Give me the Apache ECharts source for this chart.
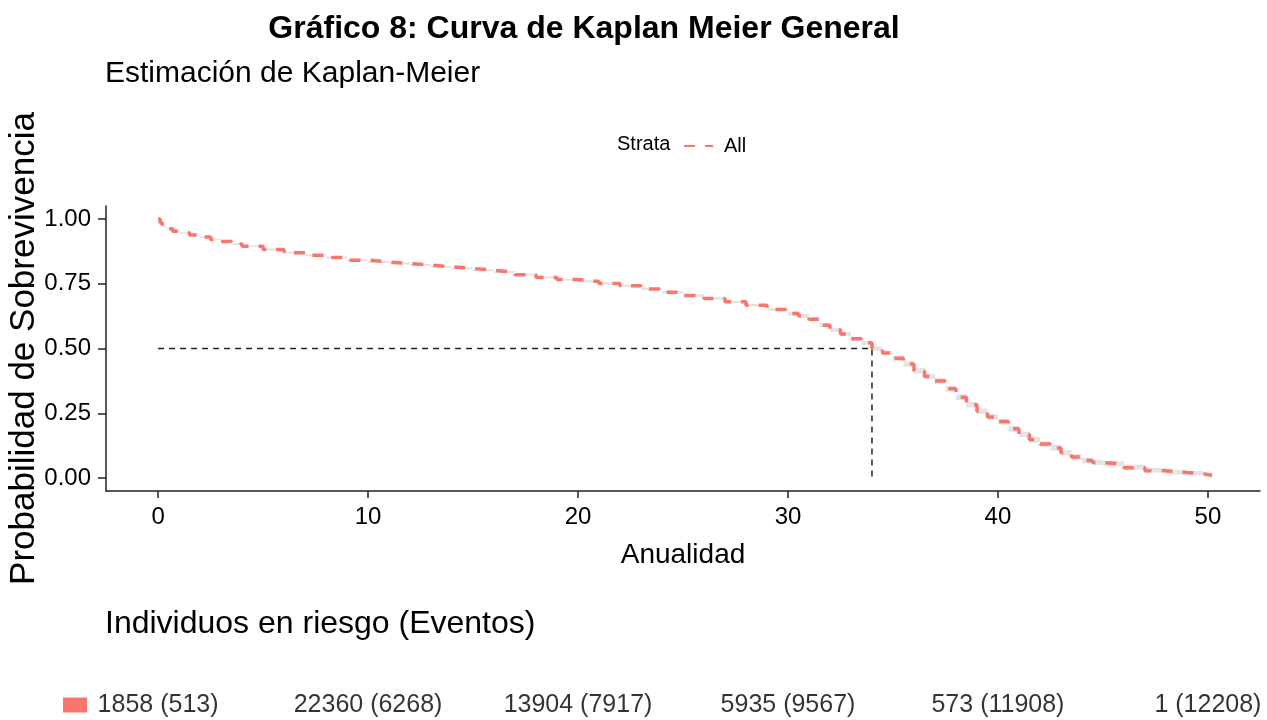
<!DOCTYPE html>
<html>
<head>
<meta charset="utf-8">
<script src="https://cdn.jsdelivr.net/npm/echarts@6/dist/echarts.min.js"></script>
<style>
html,body{margin:0;padding:0;background:#fff;}
#chart{width:1267px;height:720px;}
</style>
</head>
<body>
<div id="chart"></div>
<script>
// ---- data ----
const mainTitle = 'Gráfico 8: Curva de Kaplan Meier General';
const subTitle = 'Estimación de Kaplan-Meier';
const riskTitle = 'Individuos en riesgo (Eventos)';
const strataName = 'All';

const times = [0,0.1,0.2,0.4,0.7,1.0,1.5,2.0,2.5,3.0,3.5,4.0,5,6,7,8,9,10,11,12,13,14,15,16,17,18,19,20,21,22,23,24,25,26,27,28,29,30,30.5,31,31.5,32,32.5,33,33.5,34,34.5,35,35.5,36,36.5,37,37.5,38,38.5,39,39.5,40,40.5,41,41.5,42,42.5,43,43.5,44,44.5,45,46,47,48,49,49.8,50.2];
const surv = [1.000,0.985,0.970,0.962,0.953,0.946,0.938,0.930,0.921,0.913,0.903,0.895,0.882,0.870,0.860,0.851,0.841,0.834,0.828,0.822,0.815,0.809,0.802,0.795,0.785,0.774,0.766,0.759,0.751,0.742,0.730,0.717,0.705,0.693,0.680,0.667,0.651,0.635,0.626,0.613,0.590,0.572,0.556,0.538,0.522,0.500,0.483,0.462,0.440,0.414,0.392,0.375,0.345,0.312,0.283,0.258,0.236,0.218,0.190,0.168,0.148,0.131,0.116,0.098,0.081,0.068,0.060,0.054,0.040,0.028,0.021,0.016,0.010,0.008];
const ciLower = [1.000,0.982,0.967,0.959,0.950,0.943,0.935,0.927,0.918,0.910,0.900,0.892,0.878,0.866,0.856,0.847,0.837,0.830,0.824,0.818,0.811,0.805,0.798,0.791,0.781,0.770,0.762,0.754,0.746,0.737,0.725,0.712,0.700,0.688,0.675,0.662,0.646,0.627,0.618,0.605,0.582,0.564,0.548,0.530,0.514,0.492,0.475,0.451,0.429,0.403,0.381,0.364,0.334,0.301,0.272,0.247,0.225,0.207,0.179,0.157,0.137,0.120,0.105,0.087,0.070,0.057,0.050,0.045,0.032,0.021,0.014,0.010,0.006,0.004];
const ciUpper = [1.000,0.988,0.973,0.965,0.956,0.949,0.941,0.933,0.924,0.916,0.906,0.898,0.886,0.874,0.864,0.855,0.845,0.838,0.832,0.826,0.819,0.813,0.806,0.799,0.789,0.778,0.770,0.764,0.756,0.747,0.735,0.722,0.710,0.698,0.685,0.672,0.656,0.643,0.634,0.621,0.598,0.580,0.564,0.546,0.530,0.508,0.491,0.473,0.451,0.425,0.403,0.386,0.356,0.323,0.294,0.269,0.247,0.229,0.201,0.179,0.159,0.142,0.127,0.109,0.092,0.079,0.071,0.066,0.052,0.040,0.032,0.027,0.022,0.020];

const medianTime = 34;
const medianSurv = 0.5;

const xTicks = [0,10,20,30,40,50];
const yTicks = [0,0.25,0.5,0.75,1];

const riskTimes = [0,10,20,30,40,50];
const riskN = [1858,22360,13904,5935,573,1];
const riskEvents = [513,6268,7917,9567,11908,12208];

// ---- chart ----
const FONT = "'Liberation Sans', Arial, sans-serif";
const RED = '#F8766D';

const survData = times.map((t,i)=>[t,surv[i]]);
// band segments: [start, end, lower, upper]
const bandData = times.map((t,i)=>[t, i < times.length-1 ? times[i+1] : t, ciLower[i], ciUpper[i]]);
const medianData = [[0,medianSurv],[medianTime,medianSurv],[medianTime,0]];
const riskData = riskTimes.map(t=>[t,strataName]);

const chart = echarts.init(document.getElementById('chart'), null, {renderer:'canvas'});
chart.setOption({
  animation:false,
  backgroundColor:'#ffffff',
  textStyle:{fontFamily:FONT},
  graphic:[
    {type:'text', style:{text:mainTitle, x:584, y:29, font:'bold 32px '+FONT, fill:'#000', textAlign:'center', textVerticalAlign:'middle'}},
    {type:'text', style:{text:subTitle, x:105, y:74, font:'30px '+FONT, fill:'#000', textVerticalAlign:'middle'}},
    {type:'text', style:{text:'Strata', x:617, y:144, font:'20px '+FONT, fill:'#000', textVerticalAlign:'middle'}},
    {type:'text', style:{text:riskTitle, x:105, y:624, font:'32px '+FONT, fill:'#000', textVerticalAlign:'middle'}}
  ],
  legend:{
    data:[strataName],
    left:683, top:136, padding:0,
    itemWidth:29, itemHeight:14,
    itemStyle:{opacity:0},
    textStyle:{fontSize:20, color:'#000', fontFamily:FONT, padding:[0,0,0,6]},
  },
  grid:[
    {left:106, right:7, top:206, height:285, outerBoundsMode:'none', containLabel:false},
    {left:106, right:7, top:690, height:30, outerBoundsMode:'none', containLabel:false}
  ],
  xAxis:[
    {type:'value', gridIndex:0, min:-2.48, max:52.48,
     name:'Anualidad', nameLocation:'middle', nameGap:50, nameMoveOverlap:false,
     nameTextStyle:{fontSize:28, color:'#000', fontFamily:FONT},
     axisLine:{show:true, onZero:false, lineStyle:{color:'#222', width:1.5}},
     axisTick:{show:true, length:7, customValues:xTicks, lineStyle:{color:'#222', width:1.5}},
     axisLabel:{customValues:xTicks, fontSize:24, color:'#000', margin:14, fontFamily:FONT},
     splitLine:{show:false}},
    {type:'value', gridIndex:1, min:-2.48, max:52.48, show:false}
  ],
  yAxis:[
    {type:'value', gridIndex:0, min:-0.05, max:1.05,
     name:'Probabilidad de Sobrevivencia', nameLocation:'middle', nameGap:64, nameRotate:90,
     nameMoveOverlap:false,
     nameTextStyle:{fontSize:35, color:'#000', fontFamily:FONT},
     axisLine:{show:true, onZero:false, lineStyle:{color:'#222', width:1.5}},
     axisTick:{show:true, length:8, customValues:yTicks, lineStyle:{color:'#222', width:1.5}},
     axisLabel:{customValues:yTicks, fontSize:24, color:'#000', margin:15, fontFamily:FONT,
       formatter:v=>v.toFixed(2)},
     splitLine:{show:false}},
    {type:'category', gridIndex:1, data:[strataName],
     axisLine:{show:false}, axisTick:{show:false},
     axisLabel:{margin:19, formatter:()=>'{a|}', rich:{a:{backgroundColor:RED, width:24, height:15}}}}
  ],
  series:[
    {name:'ci', type:'custom', xAxisIndex:0, yAxisIndex:0, data:bandData, silent:true, z:1,
     encode:{x:[0,1], y:[2,3]},
     renderItem:function(params, api){
       const p0 = api.coord([api.value(0), api.value(3)]);
       const p1 = api.coord([api.value(1), api.value(2)]);
       return {type:'rect', shape:{x:p0[0], y:p0[1], width:Math.max(p1[0]-p0[0],0), height:Math.max(p1[1]-p0[1],0)},
               style:{fill:'#e4e4e4'}};
     }},
    {name:'median', type:'line', data:medianData, symbol:'none',
     lineStyle:{color:'#222', width:1.5, type:[6,5]}, z:2},
    {name:strataName, type:'line', step:'end', data:survData, symbol:'none',
     lineStyle:{color:RED, width:3.5, type:[11,10]}, itemStyle:{color:RED}, z:3},
    {name:'risk', type:'scatter', xAxisIndex:1, yAxisIndex:1, data:riskData,
     symbolSize:1, itemStyle:{color:'rgba(0,0,0,0)'},
     label:{show:true, position:'inside', fontSize:25, color:'#000', fontFamily:FONT,
       formatter:p=>riskN[p.dataIndex]+' ('+riskEvents[p.dataIndex]+')'}}
  ]
});
</script>
</body>
</html>
